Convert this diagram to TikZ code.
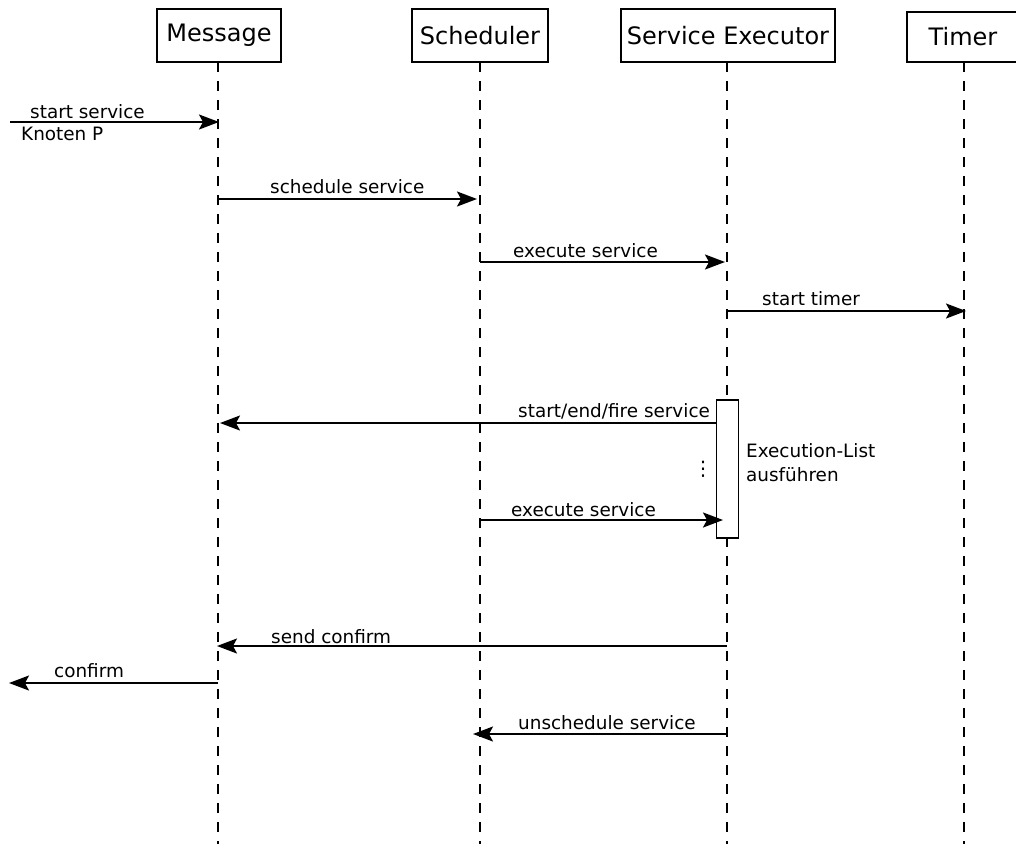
\documentclass[tikz,border=0pt]{standalone}
\usepackage{fontspec}
\setmainfont{DejaVu Sans}
\usetikzlibrary{arrows.meta}
\begin{document}
\begin{tikzpicture}[x=1pt,y=-1pt,
  actor/.style={draw, line width=1.6pt, inner sep=0pt, minimum height=53pt, font=\fontsize{24}{28}\selectfont},
  life/.style={line width=1.6pt, dash pattern=on 10pt off 9pt},
  msg/.style={line width=2pt, -{Stealth[length=20pt,width=15pt,inset=4pt]}},
  lbl/.style={font=\fontsize{18.4}{22}\selectfont, inner sep=0pt, anchor=base west}]
\useasboundingbox (0,0) rectangle (1016,844);
% heads
\node[actor, minimum width=124pt] (msgH) at (219,35.5) {Message};
\node[actor, minimum width=136pt] (schH) at (480,35.5) {Scheduler};
\node[actor, minimum width=214pt] (exeH) at (728,35.5) {Service Executor};
\node[actor, minimum width=112pt, minimum height=50pt] (timH) at (963,37) {Timer};
% lifeline ends
\coordinate (mS) at (218,62); \coordinate (mE) at (218,844);
\coordinate (sS) at (480,62); \coordinate (sE) at (480,844);
\coordinate (eS) at (727,62); \coordinate (eE) at (727,844);
\coordinate (tS) at (964,62); \coordinate (tE) at (964,844);
\draw[life] (mS) -- (mE);
\draw[life] (sS) -- (sE);
\draw[life] (eS) -- (eE);
\draw[life] (tS) -- (tE);
% activation
\node[draw, fill=white, line width=1.6pt, minimum width=22pt, minimum height=138pt, inner sep=0pt] (act) at (727.5,469) {};
% message end points
\coordinate (in0) at (10,122);   \coordinate (in1) at (219,122);
\coordinate (sc0) at (218,199);  \coordinate (sc1) at (477,199);
\coordinate (ex0) at (480,262);  \coordinate (ex1) at (725,262);
\coordinate (ti0) at (727,311);  \coordinate (ti1) at (966,311);
\coordinate (fi0) at (716.5,423);\coordinate (fi1) at (220,423);
\coordinate (ey0) at (480,520);  \coordinate (ey1) at (723,520);
\coordinate (co0) at (727,646);  \coordinate (co1) at (217,646);
\coordinate (cf0) at (218,683);  \coordinate (cf1) at (9,683);
\coordinate (un0) at (727,734);  \coordinate (un1) at (473,734);
\draw[msg] (in0) -- (in1);
\draw[msg] (sc0) -- (sc1);
\draw[msg] (ex0) -- (ex1);
\draw[msg] (ti0) -- (ti1);
\draw[msg] (fi0) -- (fi1);
\draw[msg] (ey0) -- (ey1);
\draw[msg] (co0) -- (co1);
\draw[msg] (cf0) -- (cf1);
\draw[msg] (un0) -- (un1);
% labels
\node[lbl] (l1) at (30,118) {start service};
\node[lbl] (l1b) at (21,140) {Knoten P};
\node[lbl] (l2) at (270,193) {schedule service};
\node[lbl] (l3) at (513,257) {execute service};
\node[lbl] (l4) at (762,305) {start timer};
\node[lbl] (l5) at (518,417) {start/end/fire service};
\node[lbl] (l6) at (511,516) {execute service};
\node[lbl] (l7) at (746,457) {Execution-List};
\node[lbl] (l7b) at (746,481) {ausführen};
\node[lbl, font=\fontsize{20}{22}\selectfont] (dots) at (693,475) {⋮};
\node[lbl] (l8) at (271,643) {send confirm};
\node[lbl] (l9) at (54,677) {confirm};
\node[lbl] (l10) at (518,729) {unschedule service};
\end{tikzpicture}
\end{document}
